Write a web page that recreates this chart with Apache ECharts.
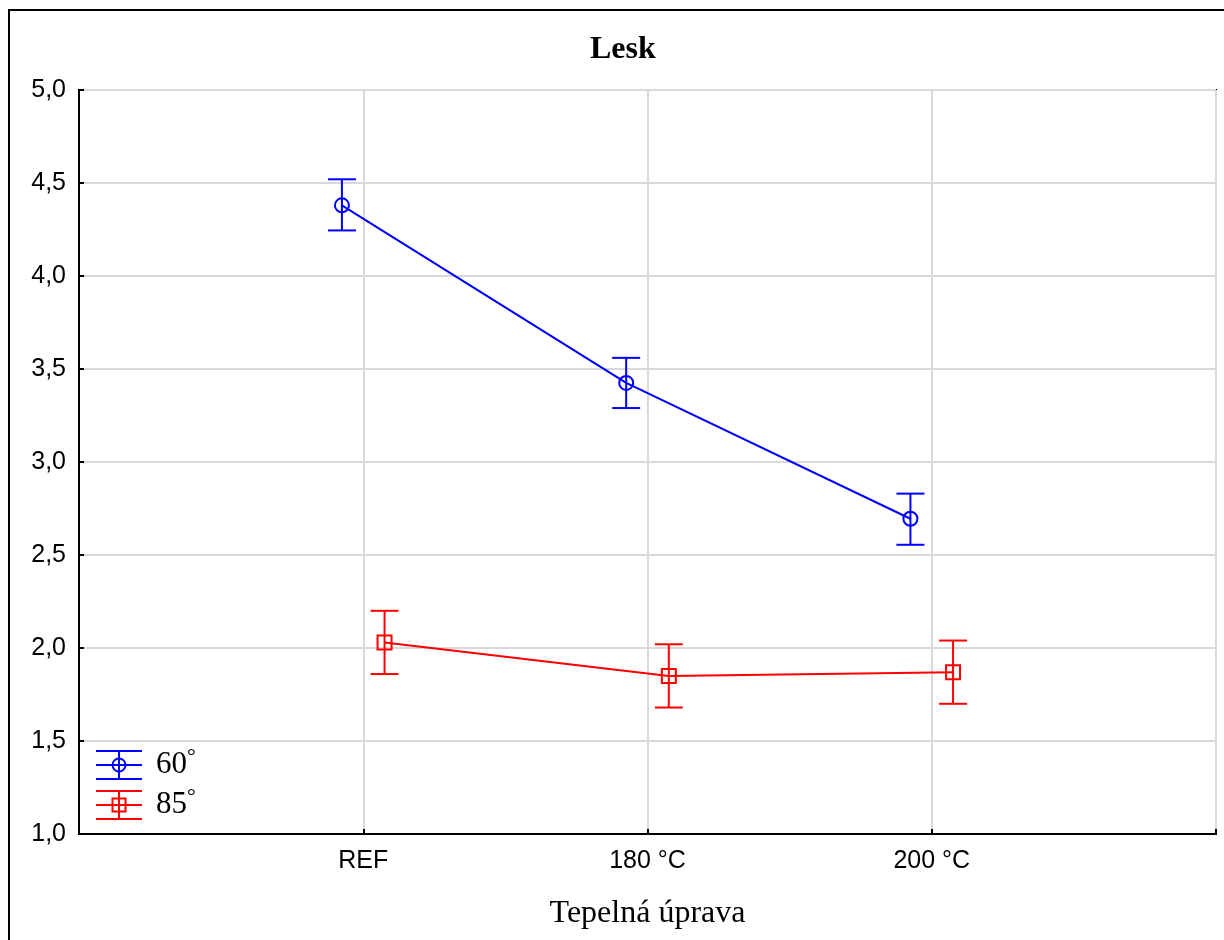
<!DOCTYPE html>
<html>
<head>
<meta charset="utf-8">
<script src="https://cdn.jsdelivr.net/npm/echarts@6/dist/echarts.min.js"></script>
<style>html,body{margin:0;padding:0;background:#fff}#c{width:1224px;height:940px}</style>
</head>
<body>
<div id="c"></div>
<script>
var categories = ['REF', '180 °C', '200 °C'];
var mean60 = [4.38, 3.425, 2.695];
var lo60 = [4.245, 3.29, 2.555];
var hi60 = [4.52, 3.56, 2.83];
var mean85 = [2.03, 1.85, 1.87];
var lo85 = [1.86, 1.68, 1.70];
var hi85 = [2.20, 2.02, 2.04];
var seriesNames = ['60', '85'];

var OFF = 0.075;
function pts(mean, off) { return mean.map(function (v, i) { return [i + 1 + off, v]; }); }
function errs(lo, hi, off) { return lo.map(function (v, i) { return [i + 1 + off, v, hi[i]]; }); }

function errRender(color) {
  return function (params, api) {
    var x = api.value(0);
    var a = api.coord([x, api.value(1)]);
    var b = api.coord([x, api.value(2)]);
    var w = 14;
    var st = { stroke: color, lineWidth: 2 };
    return { type: 'group', children: [
      { type: 'line', shape: { x1: a[0], y1: a[1], x2: b[0], y2: b[1] }, style: st },
      { type: 'line', shape: { x1: a[0] - w, y1: a[1], x2: a[0] + w, y2: a[1] }, style: st },
      { type: 'line', shape: { x1: b[0] - w, y1: b[1], x2: b[0] + w, y2: b[1] }, style: st }
    ] };
  };
}

var chart = echarts.init(document.getElementById('c'), null, { renderer: 'canvas' });

function legendItem(y, color, isCircle, name) {
  var st = { stroke: color, lineWidth: 2, fill: null };
  var items = [
    { type: 'line', shape: { x1: 96, y1: y - 14, x2: 142, y2: y - 14 }, style: st },
    { type: 'line', shape: { x1: 96, y1: y, x2: 142, y2: y }, style: st },
    { type: 'line', shape: { x1: 96, y1: y + 14, x2: 142, y2: y + 14 }, style: st },
    { type: 'line', shape: { x1: 119, y1: y - 14, x2: 119, y2: y + 14 }, style: st }
  ];
  if (isCircle) items.push({ type: 'circle', shape: { cx: 119, cy: y, r: 6.5 }, style: { stroke: color, lineWidth: 2, fill: 'rgba(0,0,0,0)' } });
  else items.push({ type: 'rect', shape: { x: 112.5, y: y - 6.5, width: 13, height: 13 }, style: { stroke: color, lineWidth: 2, fill: 'rgba(0,0,0,0)' } });
  items.push({ type: 'text', x: 156, y: y, style: { text: name, font: '31px "Liberation Serif"', fill: '#000', verticalAlign: 'middle' } });
  items.push({ type: 'text', x: 187, y: y - 19, style: { text: '°', font: '22px "Liberation Serif"', fill: '#000', verticalAlign: 'top' } });
  return items;
}

var option = {
  backgroundColor: '#fff',
  animation: false,
  title: {
    text: 'Lesk', left: 585, top: 29,
    textStyle: { fontFamily: 'Liberation Serif', fontWeight: 'bold', fontSize: 32, color: '#000' }
  },
  grid: { left: 79, top: 90, right: 8, bottom: 106, show: true, borderColor: '#000', borderWidth: 2, backgroundColor: 'transparent' },
  xAxis: {
    type: 'value', min: 0, max: 4, interval: 1,
    name: 'Tepelná úprava', nameLocation: 'middle', nameGap: 64,
    nameTextStyle: { fontFamily: 'Liberation Serif', fontSize: 32, color: '#000' },
    axisLine: { show: true, lineStyle: { color: '#000', width: 2 } },
    axisTick: { show: true, inside: true, length: 5, lineStyle: { color: '#000', width: 2 } },
    axisLabel: {
      margin: 15, fontFamily: 'Liberation Sans', fontSize: 25, color: '#000',
      formatter: function (v) { var i = Math.round(v) - 1; return (i >= 0 && i < categories.length) ? categories[i] : ''; }
    },
    splitLine: { show: true, lineStyle: { color: '#d9d9d9', width: 2 } }
  },
  yAxis: {
    type: 'value', min: 1, max: 5, interval: 0.5,
    axisLine: { show: true, lineStyle: { color: '#000', width: 2 } },
    axisTick: { show: true, inside: true, length: 5, lineStyle: { color: '#000', width: 2 } },
    axisLabel: {
      margin: 13, fontFamily: 'Liberation Sans', fontSize: 25, color: '#000',
      formatter: function (v) { return v.toFixed(1).replace('.', ','); }
    },
    splitLine: { show: true, lineStyle: { color: '#d9d9d9', width: 2 } }
  },
  series: [
    { type: 'custom', name: seriesNames[0] + ' err', data: errs(lo60, hi60, -OFF), renderItem: errRender('#0000ff'), z: 3 },
    { type: 'custom', name: seriesNames[1] + ' err', data: errs(lo85, hi85, OFF), renderItem: errRender('#ff0000'), z: 3 },
    {
      type: 'line', name: seriesNames[0], data: pts(mean60, -OFF),
      symbol: 'circle', symbolSize: 14,
      itemStyle: { color: 'rgba(255,255,255,0)', borderColor: '#0000ff', borderWidth: 2 },
      lineStyle: { color: '#0000ff', width: 2 }, z: 4
    },
    {
      type: 'line', name: seriesNames[1], data: pts(mean85, OFF),
      symbol: 'rect', symbolSize: 14,
      itemStyle: { color: 'rgba(255,255,255,0)', borderColor: '#ff0000', borderWidth: 2 },
      lineStyle: { color: '#ff0000', width: 2 }, z: 4
    }
  ],
  graphic: [
    { type: 'rect', shape: { x: 9, y: 10, width: 1300, height: 1000 }, style: { stroke: '#000', lineWidth: 2, fill: null }, z: 100, silent: true }
  ].concat(legendItem(765, '#0000ff', true, seriesNames[0]), legendItem(805, '#ff0000', false, seriesNames[1]))
};
chart.setOption(option);
</script>
</body>
</html>
